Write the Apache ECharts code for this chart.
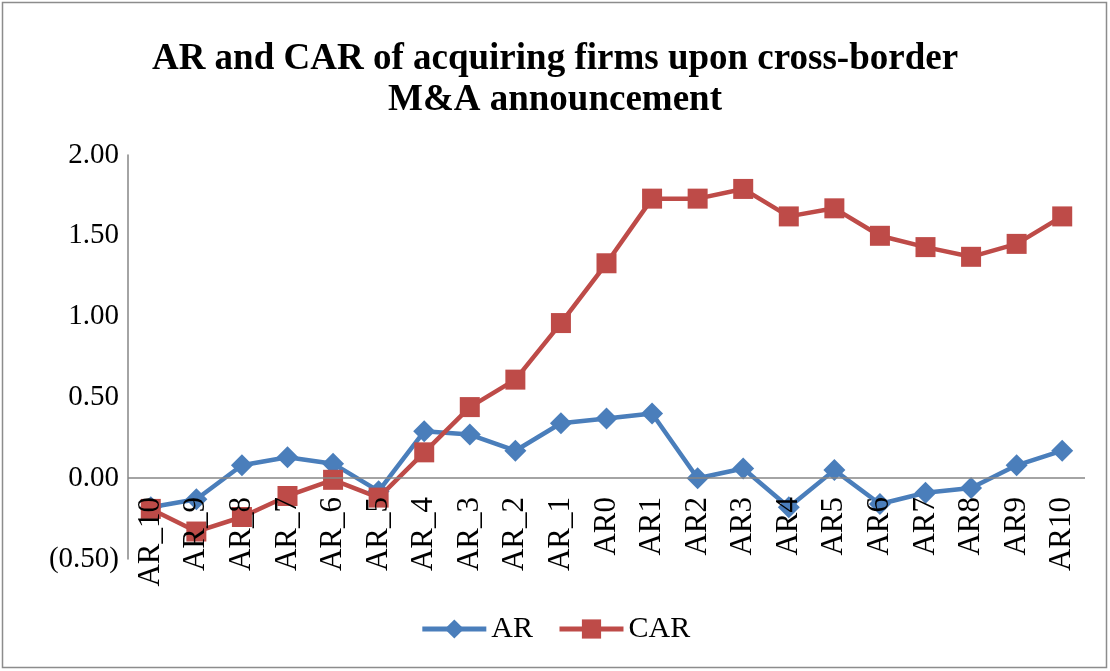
<!DOCTYPE html>
<html><head><meta charset="utf-8">
<script src="https://cdn.jsdelivr.net/npm/echarts@6/dist/echarts.min.js"></script>
<style>html,body{margin:0;padding:0;background:#fff}#c{width:1110px;height:671px}</style>
</head><body><div id="c"></div>
<script>
const categories = ["AR_10","AR_9","AR_8","AR_7","AR_6","AR_5","AR_4","AR_3","AR_2","AR_1","AR0","AR1","AR2","AR3","AR4","AR5","AR6","AR7","AR8","AR9","AR10"];
const arValues = [-0.18,-0.13,0.08,0.13,0.09,-0.08,0.29,0.27,0.17,0.34,0.37,0.40,0.00,0.06,-0.18,0.05,-0.16,-0.09,-0.06,0.08,0.17];
const carValues = [-0.19,-0.33,-0.24,-0.11,-0.01,-0.12,0.16,0.44,0.61,0.96,1.33,1.73,1.73,1.79,1.62,1.67,1.50,1.43,1.37,1.45,1.62];
const yTicks = {min:-0.5, max:2.0, interval:0.5};
const font = "'Liberation Serif','Times New Roman',serif";
const chart = echarts.init(document.getElementById('c'));
chart.setOption({
  animation:false,
  graphic:[{type:'rect',shape:{x:2.5,y:2.5,width:1104,height:665},style:{fill:null,stroke:'#8c8c8c',lineWidth:1.5}}],
  title:{text:'AR and CAR of acquiring firms upon cross-border\nM&A announcement',left:'center',top:34,
    textStyle:{fontFamily:font,fontWeight:'bold',fontSize:37,color:'#000',lineHeight:41}},
  legend:{bottom:22,left:'center',itemWidth:64,itemHeight:24,itemGap:24,
    textStyle:{fontFamily:font,fontSize:30,color:'#000'},
    lineStyle:{width:5},
    data:['AR','CAR']},
  grid:{left:128,right:25,top:155,bottom:112,containLabel:false},
  xAxis:{type:'category',data:categories,boundaryGap:true,z:5,
    axisLine:{show:false},
    axisTick:{show:false},
    axisLabel:{rotate:90,fontFamily:font,fontSize:31,color:'#000',margin:-62,interval:0}},
  yAxis:{type:'value',min:yTicks.min,max:yTicks.max,interval:yTicks.interval,
    axisLine:{show:true,lineStyle:{color:'#868686',width:1.5}},
    axisTick:{show:false},splitLine:{show:false},
    axisLabel:{fontFamily:font,fontSize:29,color:'#000',margin:9,
      formatter:v=>v<0?'('+Math.abs(v).toFixed(2)+')':v.toFixed(2)}},
  series:[
    {name:'AR',type:'line',data:arValues,symbol:'diamond',symbolSize:22,z:3,
     lineStyle:{color:'#4a7ebb',width:4.5},itemStyle:{color:'#4a7ebb'},
     markLine:{silent:true,symbol:'none',label:{show:false},animation:false,
       lineStyle:{color:'#868686',width:1.5,type:'solid'},data:[{yAxis:0}]}},
    {name:'CAR',type:'line',data:carValues,symbol:'rect',symbolSize:20,z:3,
     lineStyle:{color:'#be4b48',width:4.5},itemStyle:{color:'#be4b48'}}
  ]
});
</script></body></html>
